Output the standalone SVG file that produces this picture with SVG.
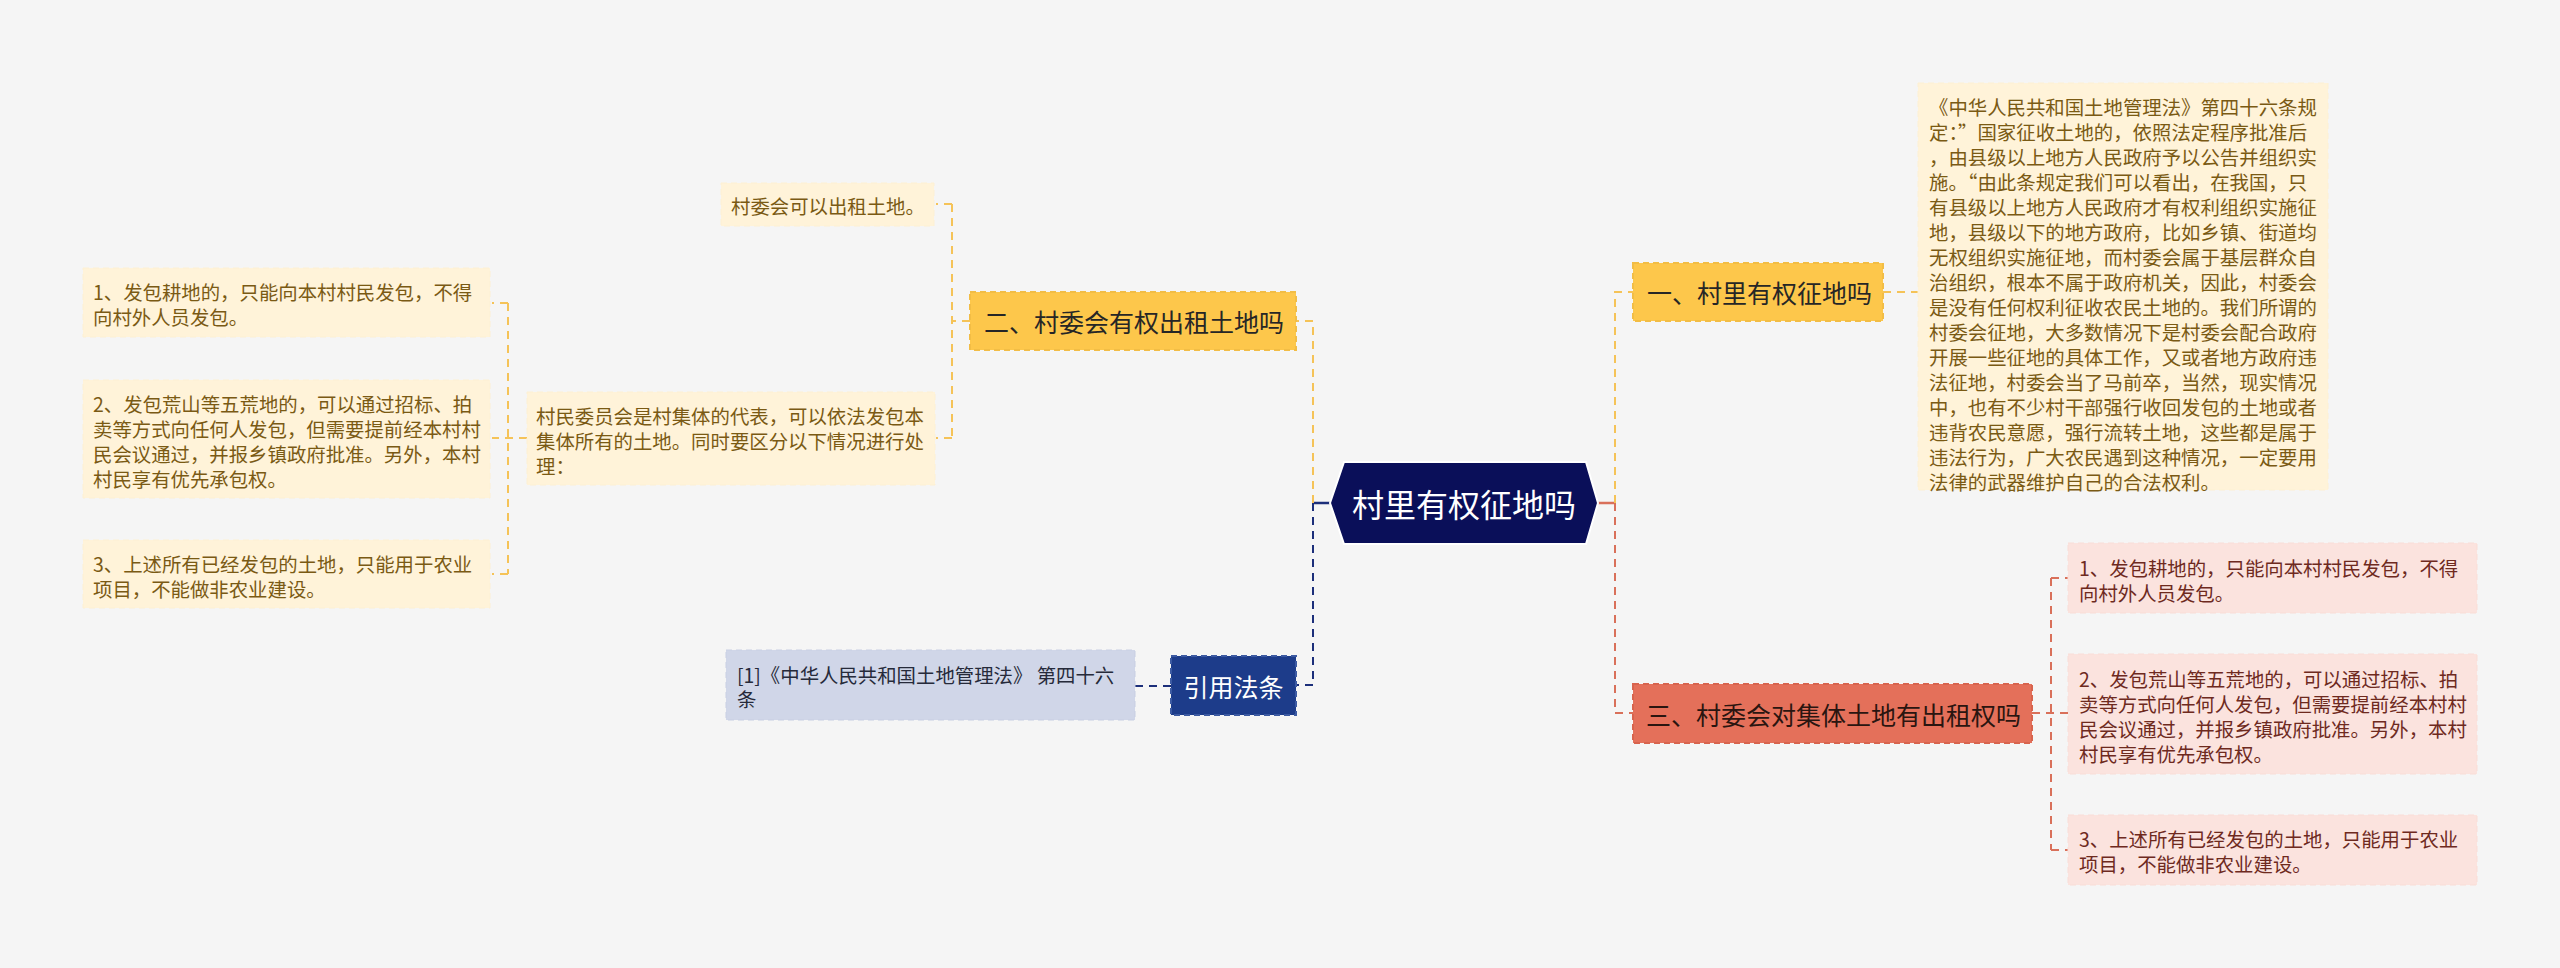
<svg xmlns="http://www.w3.org/2000/svg" width="2560" height="968" viewBox="0 0 2560 968">
<style>
text{font-family:"Noto Sans CJK SC","Noto Sans",sans-serif;dominant-baseline:central}
.bg{fill:#f5f5f5}
.c{fill:none;stroke-width:2;stroke-dasharray:8 6}
.cy{stroke:#f5c358}.cr{stroke:#d9705a}.cn{stroke:#1c2f7a}
.s{fill:none;stroke-width:2.5}
.ny{fill:#fdc74b;stroke:#f2bd45;stroke-width:2;stroke-dasharray:6 4}
.nr{fill:#e4705a;stroke:#d8644e;stroke-width:2;stroke-dasharray:6 4}
.nb{fill:#1d3c8a;stroke:#3c5aa2;stroke-width:2;stroke-dasharray:6 4}
.ly{fill:#fff3d9;stroke:#fdf0d3;stroke-width:1;stroke-dasharray:6 4}
.lr{fill:#fbe3de;stroke:#f9ddd7;stroke-width:1;stroke-dasharray:6 4}
.lb{fill:#d0d6e8;stroke:#c8cfe3;stroke-width:1;stroke-dasharray:6 4}
.t1{font-size:25px;fill:#262626}
.tw{font-size:25px;fill:#ffffff}
.ty{font-size:19.4px;fill:#7a5a14}
.tr{font-size:19.4px;fill:#6e2a1e}
.tb{font-size:19.4px;fill:#262a3a}
</style>
<rect class="bg" x="0" y="0" width="2560" height="968"/>
<g id="connectors">
  <path class="s" d="M1330 503 H1313" stroke="#1c2f7a"/>
  <path class="s" d="M1598 503 H1615" stroke="#d9705a"/>
  <path class="c cy" d="M1313 503 V321 H1296"/>
  <path class="c cn" d="M1313 503 V685 H1296"/>
  <path class="c cy" d="M1615 503 V292 H1633"/>
  <path class="c cr" d="M1615 503 V713 H1633"/>
  <path class="c cy" d="M1883 292 H1918"/>
  <path class="c cy" d="M970 321 H952 M952 204 V438 M952 204 H936 M952 438 H936"/>
  <path class="c cy" d="M527 438 H492 M508 303 V574 M508 303 H492 M508 574 H492"/>
  <path class="c cr" d="M2032 713 H2068 M2051 578 V850 M2051 578 H2068 M2051 850 H2068"/>
  <path class="c cn" d="M1171 686 H1135"/>
</g>
<g id="root">
  <polygon points="1330,503 1344,462 1586,462 1598,503 1586,544 1344,544" fill="#0a0f59" stroke="#ffffff" stroke-width="2"/>
  <text x="1464" y="503" text-anchor="middle" style="font-size:32px;fill:#ffffff">村里有权征地吗</text>
</g>
<g id="n1">
  <rect class="ny" x="1633" y="263" width="250" height="58"/>
  <text class="t1" x="1647" y="292">一、村里有权征地吗</text>
</g>
<g id="n1-detail">
  <rect class="ly" x="1918" y="83" width="410" height="407"/>
  <text class="ty">
    <tspan x="1929" y="106">《中华人民共和国土地管理法》第四十六条规</tspan>
    <tspan x="1929" y="131">定：”国家征收土地的，依照法定程序批准后</tspan>
    <tspan x="1929" y="156">，由县级以上地方人民政府予以公告并组织实</tspan>
    <tspan x="1929" y="181">施。“由此条规定我们可以看出，在我国，只</tspan>
    <tspan x="1929" y="206">有县级以上地方人民政府才有权利组织实施征</tspan>
    <tspan x="1929" y="231">地，县级以下的地方政府，比如乡镇、街道均</tspan>
    <tspan x="1929" y="256">无权组织实施征地，而村委会属于基层群众自</tspan>
    <tspan x="1929" y="281">治组织，根本不属于政府机关，因此，村委会</tspan>
    <tspan x="1929" y="306">是没有任何权利征收农民土地的。我们所谓的</tspan>
    <tspan x="1929" y="331">村委会征地，大多数情况下是村委会配合政府</tspan>
    <tspan x="1929" y="356">开展一些征地的具体工作，又或者地方政府违</tspan>
    <tspan x="1929" y="381">法征地，村委会当了马前卒，当然，现实情况</tspan>
    <tspan x="1929" y="406">中，也有不少村干部强行收回发包的土地或者</tspan>
    <tspan x="1929" y="431">违背农民意愿，强行流转土地，这些都是属于</tspan>
    <tspan x="1929" y="456">违法行为，广大农民遇到这种情况，一定要用</tspan>
    <tspan x="1929" y="481">法律的武器维护自己的合法权利。</tspan>
  </text>
</g>
<g id="n2">
  <rect class="ny" x="970" y="292" width="326" height="58"/>
  <text class="t1" x="984" y="321">二、村委会有权出租土地吗</text>
</g>
<g id="n2-a">
  <rect class="ly" x="721" y="183" width="213" height="43"/>
  <text class="ty" x="731" y="205">村委会可以出租土地。</text>
</g>
<g id="n2-b">
  <rect class="ly" x="527" y="392" width="408" height="93"/>
  <text class="ty">
    <tspan x="536" y="415">村民委员会是村集体的代表，可以依法发包本</tspan>
    <tspan x="536" y="440">集体所有的土地。同时要区分以下情况进行处</tspan>
    <tspan x="536" y="465">理：</tspan>
  </text>
</g>
<g id="n2-b1">
  <rect class="ly" x="83" y="268" width="407" height="69"/>
  <text class="ty">
    <tspan x="93" y="291">1、发包耕地的，只能向本村村民发包，不得</tspan>
    <tspan x="93" y="316">向村外人员发包。</tspan>
  </text>
</g>
<g id="n2-b2">
  <rect class="ly" x="83" y="380" width="407" height="118"/>
  <text class="ty">
    <tspan x="93" y="403">2、发包荒山等五荒地的，可以通过招标、拍</tspan>
    <tspan x="93" y="428">卖等方式向任何人发包，但需要提前经本村村</tspan>
    <tspan x="93" y="453">民会议通过，并报乡镇政府批准。另外，本村</tspan>
    <tspan x="93" y="478">村民享有优先承包权。</tspan>
  </text>
</g>
<g id="n2-b3">
  <rect class="ly" x="83" y="540" width="407" height="68"/>
  <text class="ty">
    <tspan x="93" y="563">3、上述所有已经发包的土地，只能用于农业</tspan>
    <tspan x="93" y="588">项目，不能做非农业建设。</tspan>
  </text>
</g>
<g id="n3">
  <rect class="nr" x="1633" y="684" width="399" height="59"/>
  <text class="t1" x="1646" y="714" style="fill:#2a1510">三、村委会对集体土地有出租权吗</text>
</g>
<g id="n3-1">
  <rect class="lr" x="2068" y="543" width="409" height="70"/>
  <text class="tr">
    <tspan x="2079" y="567">1、发包耕地的，只能向本村村民发包，不得</tspan>
    <tspan x="2079" y="592">向村外人员发包。</tspan>
  </text>
</g>
<g id="n3-2">
  <rect class="lr" x="2068" y="654" width="409" height="120"/>
  <text class="tr">
    <tspan x="2079" y="678">2、发包荒山等五荒地的，可以通过招标、拍</tspan>
    <tspan x="2079" y="703">卖等方式向任何人发包，但需要提前经本村村</tspan>
    <tspan x="2079" y="728">民会议通过，并报乡镇政府批准。另外，本村</tspan>
    <tspan x="2079" y="753">村民享有优先承包权。</tspan>
  </text>
</g>
<g id="n3-3">
  <rect class="lr" x="2068" y="815" width="409" height="70"/>
  <text class="tr">
    <tspan x="2079" y="838">3、上述所有已经发包的土地，只能用于农业</tspan>
    <tspan x="2079" y="863">项目，不能做非农业建设。</tspan>
  </text>
</g>
<g id="n4">
  <rect class="nb" x="1171" y="656" width="125" height="59"/>
  <text class="tw" x="1233.5" y="686" text-anchor="middle">引用法条</text>
</g>
<g id="n4-1">
  <rect class="lb" x="726" y="650" width="409" height="70"/>
  <text class="tb">
    <tspan x="737" y="674">[1]《中华人民共和国土地管理法》 第四十六</tspan>
    <tspan x="737" y="698">条</tspan>
  </text>
</g>
</svg>
